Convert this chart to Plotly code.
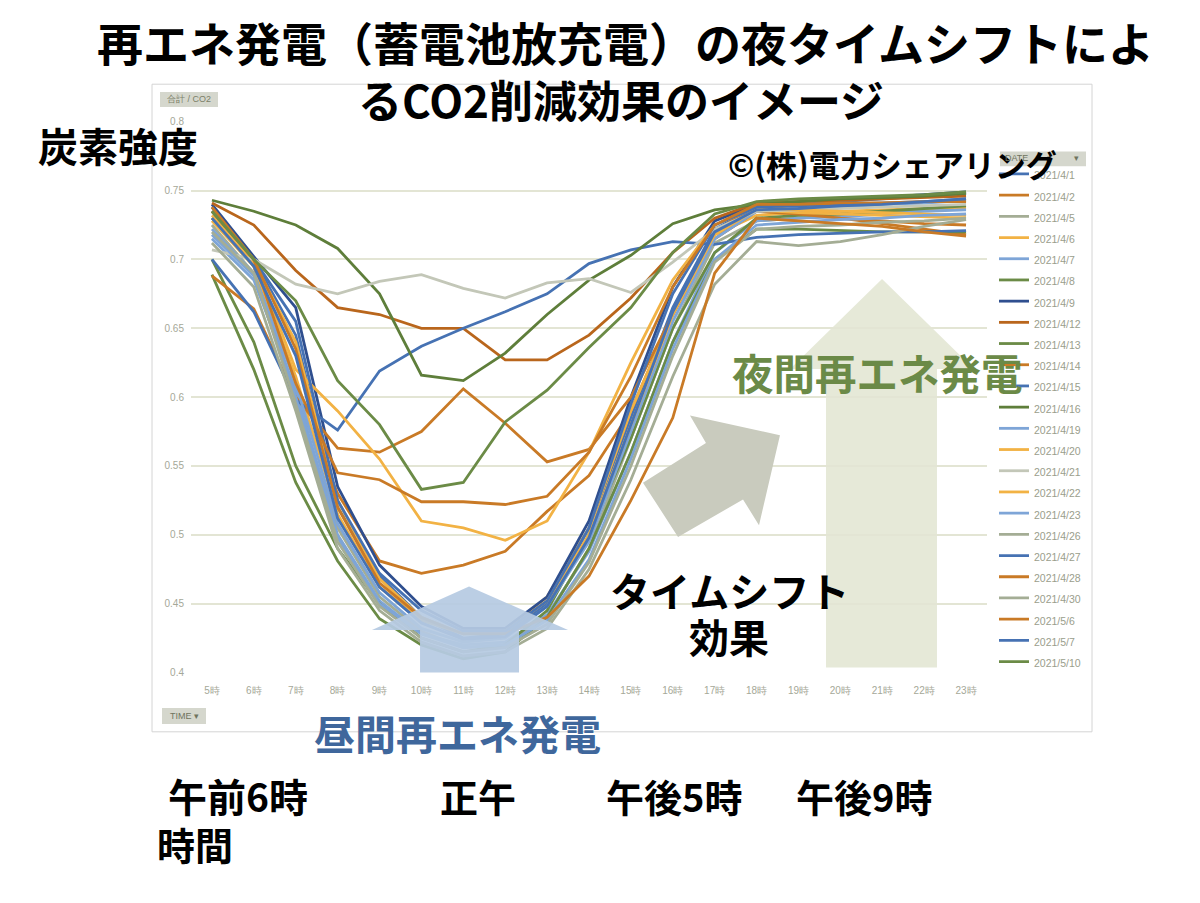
import plotly.graph_objects as go

# the page adds an 8px body margin, so the figure is 16px smaller than the window
W, H = 1184, 887
OFF = 8

hours = ["5時", "6時", "7時", "8時", "9時", "10時", "11時", "12時", "13時", "14時",
         "15時", "16時", "17時", "18時", "19時", "20時", "21時", "22時", "23時"]
y_ticks = [0.4, 0.45, 0.5, 0.55, 0.6, 0.65, 0.7, 0.75, 0.8]
y_tick_text = ["0.4", "0.45", "0.5", "0.55", "0.6", "0.65", "0.7", "0.75", "0.8"]

# carbon intensity per hour, one list per day
d0401 = [0.738, 0.700, 0.645, 0.520, 0.470, 0.440, 0.425, 0.428, 0.450, 0.505, 0.585, 0.665, 0.722, 0.738, 0.740, 0.742, 0.744, 0.746, 0.748]
d0402 = [0.730, 0.695, 0.600, 0.530, 0.481, 0.472, 0.478, 0.488, 0.517, 0.543, 0.590, 0.660, 0.720, 0.740, 0.735, 0.730, 0.726, 0.722, 0.718]
d0405 = [0.725, 0.690, 0.600, 0.505, 0.455, 0.430, 0.418, 0.420, 0.440, 0.490, 0.570, 0.650, 0.712, 0.728, 0.730, 0.732, 0.734, 0.736, 0.737]
d0406 = [0.728, 0.695, 0.615, 0.515, 0.462, 0.438, 0.428, 0.430, 0.455, 0.505, 0.590, 0.660, 0.718, 0.732, 0.734, 0.735, 0.736, 0.737, 0.738]
d0407 = [0.715, 0.685, 0.605, 0.500, 0.452, 0.428, 0.420, 0.422, 0.442, 0.488, 0.560, 0.640, 0.705, 0.728, 0.730, 0.731, 0.733, 0.735, 0.736]
d0408 = [0.700, 0.640, 0.550, 0.490, 0.450, 0.425, 0.415, 0.420, 0.445, 0.500, 0.570, 0.650, 0.705, 0.730, 0.732, 0.733, 0.735, 0.737, 0.739]
d0409 = [0.740, 0.702, 0.665, 0.535, 0.478, 0.448, 0.432, 0.432, 0.455, 0.510, 0.600, 0.680, 0.728, 0.740, 0.742, 0.744, 0.745, 0.747, 0.749]
d0412 = [0.741, 0.725, 0.692, 0.665, 0.660, 0.650, 0.650, 0.627, 0.627, 0.645, 0.672, 0.705, 0.730, 0.741, 0.742, 0.743, 0.744, 0.745, 0.746]
d0413 = [0.689, 0.620, 0.538, 0.481, 0.439, 0.420, 0.410, 0.415, 0.440, 0.490, 0.560, 0.640, 0.700, 0.722, 0.722, 0.721, 0.720, 0.720, 0.720]
d0414 = [0.688, 0.664, 0.600, 0.563, 0.560, 0.575, 0.606, 0.581, 0.553, 0.562, 0.600, 0.660, 0.715, 0.735, 0.733, 0.730, 0.728, 0.726, 0.725]
d0415 = [0.700, 0.662, 0.598, 0.576, 0.619, 0.637, 0.650, 0.662, 0.675, 0.697, 0.707, 0.713, 0.711, 0.716, 0.718, 0.719, 0.720, 0.720, 0.721]
d0416 = [0.743, 0.735, 0.725, 0.708, 0.675, 0.616, 0.612, 0.632, 0.660, 0.685, 0.703, 0.726, 0.736, 0.740, 0.742, 0.744, 0.745, 0.746, 0.748]
d0419 = [0.722, 0.690, 0.610, 0.508, 0.458, 0.432, 0.422, 0.425, 0.448, 0.495, 0.575, 0.655, 0.715, 0.735, 0.737, 0.738, 0.740, 0.741, 0.743]
d0420 = [0.732, 0.698, 0.640, 0.525, 0.468, 0.440, 0.428, 0.430, 0.452, 0.500, 0.580, 0.660, 0.718, 0.736, 0.734, 0.733, 0.732, 0.731, 0.730]
d0421 = [0.707, 0.700, 0.682, 0.675, 0.684, 0.689, 0.679, 0.672, 0.683, 0.686, 0.676, 0.698, 0.722, 0.735, 0.736, 0.737, 0.738, 0.739, 0.740]
d0422 = [0.730, 0.700, 0.620, 0.590, 0.555, 0.510, 0.505, 0.496, 0.510, 0.560, 0.625, 0.685, 0.725, 0.738, 0.736, 0.735, 0.734, 0.733, 0.732]
d0423 = [0.718, 0.688, 0.600, 0.498, 0.450, 0.428, 0.418, 0.420, 0.438, 0.482, 0.555, 0.635, 0.700, 0.725, 0.727, 0.729, 0.730, 0.732, 0.733]
d0426 = [0.720, 0.690, 0.595, 0.495, 0.448, 0.425, 0.415, 0.418, 0.435, 0.480, 0.550, 0.630, 0.698, 0.722, 0.724, 0.725, 0.727, 0.728, 0.730]
d0427 = [0.735, 0.700, 0.655, 0.525, 0.472, 0.445, 0.430, 0.430, 0.452, 0.505, 0.595, 0.675, 0.725, 0.738, 0.739, 0.740, 0.741, 0.742, 0.744]
d0428 = [0.735, 0.700, 0.610, 0.545, 0.540, 0.524, 0.524, 0.522, 0.528, 0.560, 0.615, 0.680, 0.725, 0.740, 0.740, 0.741, 0.741, 0.742, 0.742]
d0430 = [0.712, 0.680, 0.590, 0.490, 0.445, 0.422, 0.412, 0.415, 0.432, 0.475, 0.540, 0.615, 0.682, 0.713, 0.710, 0.713, 0.718, 0.724, 0.729]
d0506 = [0.738, 0.700, 0.635, 0.520, 0.465, 0.440, 0.428, 0.428, 0.440, 0.470, 0.525, 0.585, 0.690, 0.730, 0.728, 0.726, 0.724, 0.720, 0.717]
d0507 = [0.730, 0.695, 0.630, 0.512, 0.462, 0.436, 0.424, 0.426, 0.448, 0.498, 0.580, 0.662, 0.720, 0.736, 0.737, 0.739, 0.740, 0.742, 0.744]
d0510 = [0.735, 0.700, 0.670, 0.612, 0.580, 0.533, 0.538, 0.582, 0.605, 0.636, 0.665, 0.705, 0.733, 0.742, 0.744, 0.745, 0.746, 0.747, 0.749]

dates = ["2021/4/1", "2021/4/2", "2021/4/5", "2021/4/6", "2021/4/7", "2021/4/8",
         "2021/4/9", "2021/4/12", "2021/4/13", "2021/4/14", "2021/4/15", "2021/4/16",
         "2021/4/19", "2021/4/20", "2021/4/21", "2021/4/22", "2021/4/23", "2021/4/26",
         "2021/4/27", "2021/4/28", "2021/4/30", "2021/5/6", "2021/5/7", "2021/5/10"]
values = [d0401, d0402, d0405, d0406, d0407, d0408, d0409, d0412, d0413, d0414,
          d0415, d0416, d0419, d0420, d0421, d0422, d0423, d0426, d0427, d0428,
          d0430, d0506, d0507, d0510]

BLUE, ORANGE, GRAYGREEN, GOLD = "#4672B3", "#C97A26", "#A4AD95", "#F2B244"
LIGHTBLUE, GREEN, DARKBLUE, DARKORANGE = "#7EA5D7", "#6B8B46", "#2F4F8F", "#B9661C"
LIGHTGRAY, DARKGREEN = "#C3C7B8", "#5E7E3A"
colors = [BLUE, ORANGE, GRAYGREEN, GOLD, LIGHTBLUE, GREEN, DARKBLUE, DARKORANGE,
          GREEN, ORANGE, BLUE, DARKGREEN, LIGHTBLUE, GOLD, LIGHTGRAY, GOLD,
          LIGHTBLUE, GRAYGREEN, BLUE, ORANGE, GRAYGREEN, ORANGE, BLUE, GREEN]

JP = "Noto Sans CJK JP"


# positions below are given in window pixels
def px(x):
    return (x - OFF) / W


def py(y):
    return 1 - (y - OFF) / H


def path(points):
    return "M " + " L ".join(f"{px(x):.4f},{py(y):.4f}" for x, y in points) + " Z"


fig = go.Figure()
for name, vals, col in zip(dates, values, colors):
    fig.add_trace(go.Scatter(
        x=hours, y=vals, mode="lines", name=f'<span style="font-size:10.5px">{name}</span>',
        line=dict(color=col, width=2.8)))

shapes = [
    # chart frame
    dict(type="rect", xref="paper", yref="paper", x0=px(152), x1=px(1092), y0=py(735), y1=py(80),
         line=dict(color="#D4D4D4", width=1), layer="below"),
    # night arrow (pale green)
    dict(type="path", xref="paper", yref="paper", layer="below",
         path=path([(826, 670), (826, 368), (790, 368), (882, 277), (974, 368), (937, 368), (937, 670)]),
         fillcolor="#E6E9D8", line=dict(width=0)),
    # time-shift arrow (gray)
    dict(type="path", xref="paper", yref="paper", layer="above",
         path=path([(643, 483), (706, 443), (690, 415), (780, 435), (759, 526), (743, 500), (678, 538)]),
         fillcolor="#C9CBBE", line=dict(width=0)),
    # daytime arrow (light blue)
    dict(type="path", xref="paper", yref="paper", layer="above", opacity=0.93,
         path=path([(420, 675), (420, 632), (372, 632), (469, 588), (568, 632), (519, 632), (519, 675)]),
         fillcolor="#B6CAE2", line=dict(width=0)),
    # pivot buttons
    dict(type="rect", xref="paper", yref="paper", x0=px(160), x1=px(218), y0=py(103), y1=py(88),
         fillcolor="#D5D7CD", line=dict(width=0)),
    dict(type="rect", xref="paper", yref="paper", x0=px(162), x1=px(206), y0=py(727), y1=py(711),
         fillcolor="#D5D7CD", line=dict(width=0)),
    dict(type="rect", xref="paper", yref="paper", x0=px(1000), x1=px(1086), y0=py(163), y1=py(148),
         fillcolor="#D5D7CD", line=dict(width=0)),
]


def note(text, x, y, size, color="#000000", bold=True, anchor="center", family=JP):
    return dict(text=f"<b>{text}</b>" if bold else text, x=px(x), y=py(y), xref="paper", yref="paper",
                xanchor=anchor, yanchor="middle", showarrow=False,
                font=dict(family=family, size=size, color=color))


annotations = [
    note("再エネ発電（蓄電池放充電）の夜タイムシフトによ", 625, 36, 46),
    note("るCO2削減効果のイメージ", 621, 95, 44),
    note("炭素強度", 36, 142, 40, anchor="left"),
    note("©(株)電力シェアリング", 726, 160, 31, anchor="left"),
    note("夜間再エネ発電", 877, 371, 41.5, color="#6B8A47"),
    note("タイムシフト", 729, 592, 40),
    note("効果", 729, 638, 40),
    note("昼間再エネ発電", 457, 735, 41, color="#3F679C"),
    note("午前6時", 166, 799, 39, anchor="left"),
    note("正午", 478, 799, 38),
    note("午後5時", 674, 799, 38),
    note("午後9時", 864, 799, 38),
    note("時間", 155, 848, 38, anchor="left"),
    note("合計 / CO2", 189, 95, 9, color="#7B8068", bold=False, family="Liberation Sans"),
    note("TIME ▾", 184, 719, 9, color="#6F745E", bold=False, family="Liberation Sans"),
    note("DATE", 1003, 155, 9, color="#6F745E", bold=False, family="Liberation Sans", anchor="left"),
    note("▾", 1076, 155, 9, color="#6F745E", bold=False, family="Liberation Sans"),
]

fig.update_layout(
    width=W, height=H,
    margin=dict(l=0, r=0, t=0, b=0),
    paper_bgcolor="white", plot_bgcolor="white",
    showlegend=True,
    legend=dict(x=px(994), y=py(155), xanchor="left", yanchor="top",
                font=dict(family="Liberation Sans", size=14, color="#9A9E8C"),
                bgcolor="rgba(0,0,0,0)", itemwidth=30, tracegroupgap=0),
    shapes=shapes,
    annotations=annotations,
    xaxis=dict(domain=[px(191), px(987)], range=[-0.5, 18.5], type="category",
               showgrid=False, zeroline=False, showline=False, ticks="",
               tickfont=dict(family="Liberation Sans", size=10, color="#A5A898"),
               ticklabelstandoff=11),
    yaxis=dict(domain=[py(675), py(118)], range=[0.4, 0.8],
               tickvals=y_ticks, ticktext=y_tick_text,
               showgrid=True, gridcolor="#E3E5D4", gridwidth=1.5, zeroline=False,
               showline=False, ticks="",
               tickfont=dict(family="Liberation Sans", size=10, color="#A5A898"),
               ticklabelstandoff=6),
)

fig.write_html("out.html")
